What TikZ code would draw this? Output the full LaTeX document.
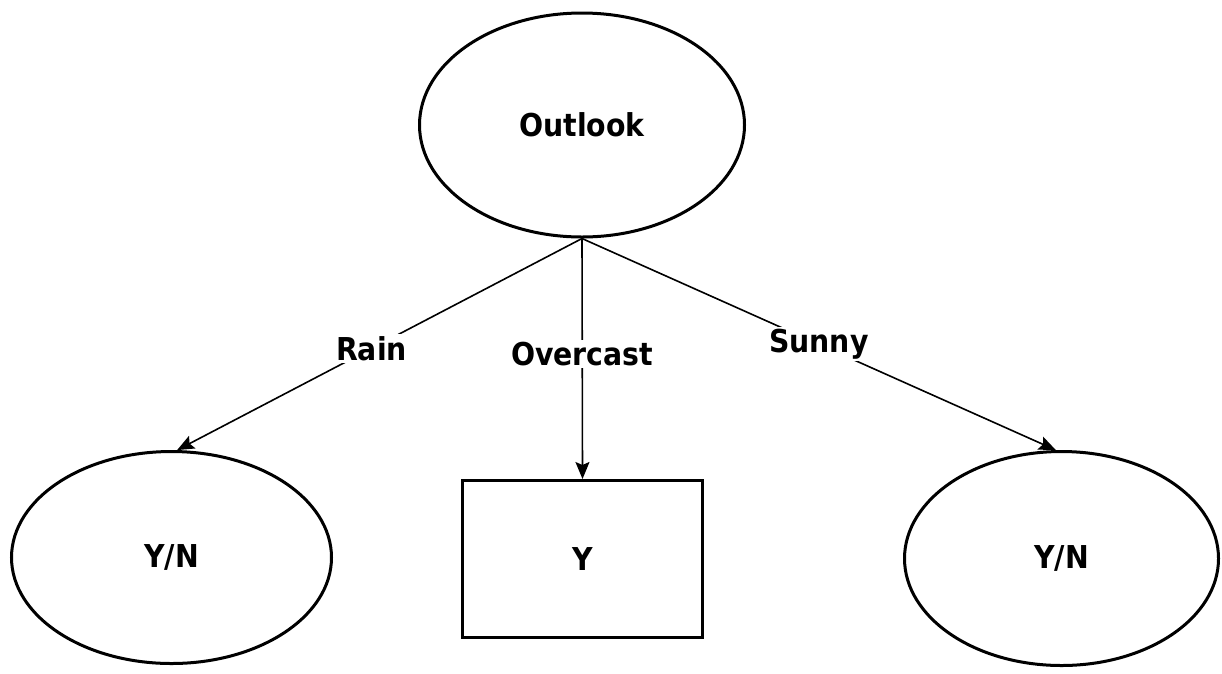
\documentclass[tikz,border=0pt]{standalone}
\usepackage{fontspec}
\setmainfont{DejaVu Sans}
\newfontfamily\lblfont{DejaVu Sans Bold}[FakeStretch=0.9]
\usetikzlibrary{shapes.geometric,arrows.meta}
\begin{document}
\begin{tikzpicture}[x=1pt,y=-1pt,
  lbl/.style={font=\lblfont\fontsize{31.5}{33}\selectfont},
  oval/.style={ellipse,draw,line width=3pt,inner sep=0pt,lbl},
  leaf/.style={rectangle,draw,line width=3pt,inner sep=0pt,lbl},
  arr/.style={line width=1.6pt,-{Stealth[length=17pt,width=14pt,inset=3pt]}},
  elbl/.style={fill=white,inner sep=2pt,lbl}]
\useasboundingbox[fill=white] (0,0) rectangle (1222,673);
\node[oval,minimum width=325pt,minimum height=224pt] (o) at (582,125) {Outlook};
\node[oval,minimum width=320pt,minimum height=212pt] (l) at (171.5,557.5) {Y/N};
\node[leaf,minimum width=240pt,minimum height=157pt] (m) at (582.5,559) {Y};
\node[oval,minimum width=314pt,minimum height=214pt] (r) at (1061.5,558.5) {Y/N};
\draw[arr] (o.south) -- node[elbl,pos=0.52] {Rain} (l.87);
\draw[arr] (o.south) -- node[elbl,pos=0.48] {Overcast} (m.north);
\draw[arr] (o.south) -- node[elbl,pos=0.5] {Sunny} (r.93);
\end{tikzpicture}
\end{document}
